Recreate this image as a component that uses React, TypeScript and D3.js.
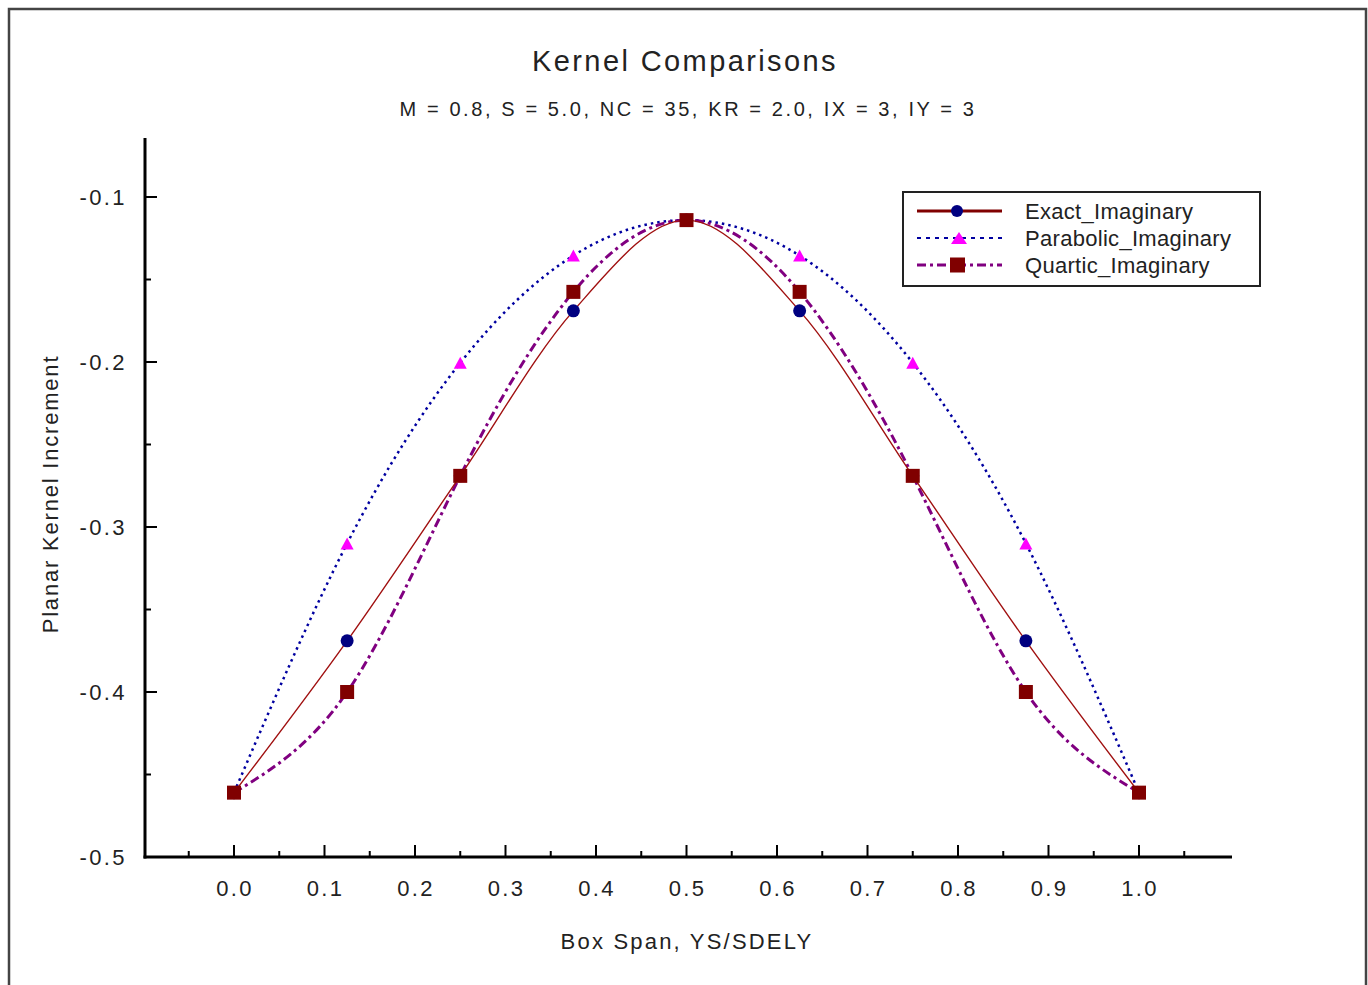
import React from "react";
import * as d3 from "d3";

const xs = [0, 0.125, 0.25, 0.375, 0.5, 0.625, 0.75, 0.875, 1.0];
const exactImag = [-0.461, -0.369, -0.269, -0.169, -0.114, -0.169, -0.269, -0.369, -0.461];
const parabolicImag = [-0.461, -0.310, -0.2005, -0.1355, -0.114, -0.1355, -0.2005, -0.310, -0.461];
const quarticImag = [-0.461, -0.400, -0.269, -0.1575, -0.114, -0.1575, -0.269, -0.400, -0.461];
const xTicks = [0, 0.1, 0.2, 0.3, 0.4, 0.5, 0.6, 0.7, 0.8, 0.9, 1.0];
const yTicks = [-0.1, -0.2, -0.3, -0.4, -0.5];
const legendNames = ["Exact_Imaginary", "Parabolic_Imaginary", "Quartic_Imaginary"];

const W = 1368, H = 985;
const FONT = "'Liberation Sans', Arial, sans-serif";
const TXT = "#222";

export default function App() {
  const x = d3.scaleLinear().domain([0, 1]).range([234, 1139]);
  const y = d3.scaleLinear().domain([-0.5, -0.1]).range([857, 197]);
  const axisLeft = 145, axisRight = 1232, axisBottom = 857, axisTop = 138;

  const mk = (vals: number[], curve: any) =>
    d3.line<number>().x((_, i) => x(xs[i])).y((v) => y(v)).curve(curve)(vals) || "";

  const exactPath = mk(exactImag, d3.curveMonotoneX);
  const parPath = mk(parabolicImag, d3.curveNatural);
  const quaPath = mk(quarticImag, d3.curveNatural);

  const xMinor = d3.range(-0.05, 1.1, 0.1);
  const yMinor = [-0.45, -0.35, -0.25, -0.15];

  const tri = (cx: number, cy: number, w = 6.5, h = 6) =>
    `M${cx},${cy - h} L${cx + w},${cy + h} L${cx - w},${cy + h} Z`;

  const legendX = 903, legendY = 192;
  const rows = [211, 238, 265];

  return (
    <svg width={W} height={H} style={{ position: "absolute", left: 0, top: 0, display: "block", background: "#fff" }} fontFamily={FONT}>
      <rect x={9} y={9} width={1357} height={990} fill="none" stroke="#444" strokeWidth={2.5} />
      <text x={685} y={71} textAnchor="middle" fontSize={29} fill={TXT} letterSpacing={2.4}>Kernel Comparisons</text>
      <text x={688} y={116} textAnchor="middle" fontSize={20} fill={TXT} letterSpacing={2.6}>M = 0.8, S = 5.0, NC = 35, KR = 2.0, IX = 3, IY = 3</text>

      {/* axes */}
      <line x1={axisLeft} x2={axisLeft} y1={axisTop} y2={axisBottom + 1.5} stroke="#000" strokeWidth={3} />
      <line x1={axisLeft - 1.5} x2={axisRight} y1={axisBottom} y2={axisBottom} stroke="#000" strokeWidth={3} />
      {xTicks.map((t) => (
        <g key={"xt" + t}>
          <line x1={x(t)} x2={x(t)} y1={axisBottom} y2={axisBottom - 12} stroke="#000" strokeWidth={2} />
          <text x={x(t) + 1} y={896} textAnchor="middle" fontSize={22} fill={TXT} letterSpacing={2.3}>{t.toFixed(1)}</text>
        </g>
      ))}
      {xMinor.map((t) => (
        <line key={"xm" + t} x1={x(t)} x2={x(t)} y1={axisBottom} y2={axisBottom - 6} stroke="#000" strokeWidth={2} />
      ))}
      {yTicks.map((t) => (
        <g key={"yt" + t}>
          <line x1={axisLeft} x2={axisLeft + 12} y1={y(t)} y2={y(t)} stroke="#000" strokeWidth={2} />
          <text x={127} y={y(t) + 8} textAnchor="end" fontSize={22} fill={TXT} letterSpacing={2.4}>{t.toFixed(1)}</text>
        </g>
      ))}
      {yMinor.map((t) => (
        <line key={"ym" + t} x1={axisLeft} x2={axisLeft + 6} y1={y(t)} y2={y(t)} stroke="#000" strokeWidth={2} />
      ))}
      <text x={687} y={949} textAnchor="middle" fontSize={22} fill={TXT} letterSpacing={2.2}>Box Span, YS/SDELY</text>
      <text transform="translate(58,494) rotate(-90)" textAnchor="middle" fontSize={22} fill={TXT} letterSpacing={1.8}>Planar Kernel Increment</text>

      {/* lines */}
      <path d={parPath} fill="none" stroke="#0000a0" strokeWidth={2.5} strokeDasharray="2.5 4" />
      <path d={quaPath} fill="none" stroke="#800080" strokeWidth={3} strokeDasharray="9 4 3 4" />
      <path d={exactPath} fill="none" stroke="#a01010" strokeWidth={1.4} />

      {/* markers */}
      {parabolicImag.map((v, i) => (
        <path key={"pm" + i} d={tri(x(xs[i]), y(v))} fill="#ff00ff" />
      ))}
      {exactImag.map((v, i) => (
        <circle key={"em" + i} cx={x(xs[i])} cy={y(v)} r={6.5} fill="#000080" />
      ))}
      {quarticImag.map((v, i) => (
        <rect key={"qm" + i} x={x(xs[i]) - 7} y={y(v) - 7} width={14} height={14} fill="#800000" />
      ))}

      {/* legend */}
      <rect x={legendX} y={legendY} width={357} height={94} fill="#fff" stroke="#222" strokeWidth={2} />
      <line x1={917} x2={1002} y1={rows[0]} y2={rows[0]} stroke="#800000" strokeWidth={3} />
      <circle cx={957} cy={rows[0]} r={6} fill="#000080" />
      <line x1={917} x2={1002} y1={rows[1]} y2={rows[1]} stroke="#0000a0" strokeWidth={2} strokeDasharray="4 5" />
      <path d={tri(959, rows[1], 8, 6)} fill="#ff00ff" />
      <line x1={917} x2={1002} y1={rows[2]} y2={rows[2]} stroke="#800080" strokeWidth={3} strokeDasharray="9 4 3 4" />
      <rect x={950} y={rows[2] - 7.5} width={15} height={15} fill="#800000" />
      {legendNames.map((n, i) => (
        <text key={n} x={1025} y={rows[i] + 8} fontSize={22} fill={TXT} letterSpacing={0.3}>{n}</text>
      ))}
    </svg>
  );
}
